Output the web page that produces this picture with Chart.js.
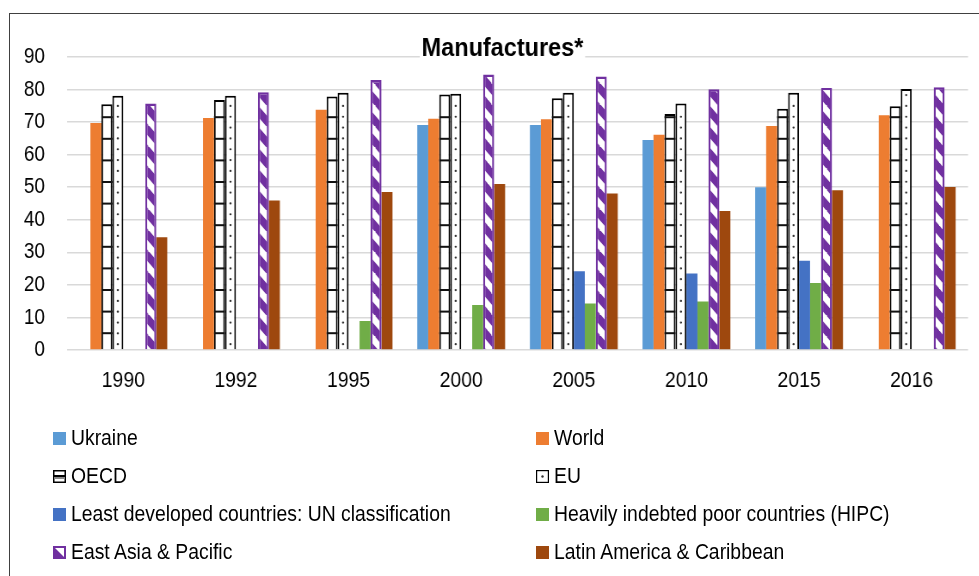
<!DOCTYPE html>
<html><head><meta charset="utf-8">
<script src="https://cdn.jsdelivr.net/npm/chart.js@4/dist/chart.umd.min.js"></script>
<style>
html,body{margin:0;padding:0;background:#fff;overflow:hidden;width:979px;height:576px;}
#frame{position:absolute;left:9px;top:13px;width:1100px;height:700px;border:1px solid #404040;box-sizing:border-box;}
#wrap{position:absolute;left:0;top:0;width:979px;height:576px;overflow:hidden;}
#c{height:576px;transform-origin:0 0;}
#legend{position:absolute;left:0;top:0;width:979px;height:576px;pointer-events:none;font-family:"Liberation Sans",Arial,sans-serif;font-size:22.5px;color:#000;}
.item{position:absolute;display:flex;align-items:center;white-space:nowrap;height:30px;}
.item canvas{margin-right:5px;display:block;}
.item span{display:inline-block;transform-origin:0 50%;}
</style></head><body>
<div id="frame"></div>
<div id="wrap"><canvas id="c"></canvas></div>
<div id="legend"></div>
<script>
const categories = ['1990','1992','1995','2000','2005','2010','2015','2016'];
const ukraine = [null, null, null, 69.1, 69.1, 64.5, 50.0, null];
const world   = [69.7, 71.3, 73.8, 71.0, 70.9, 66.1, 68.8, 72.1];
const oecd    = [75.5, 76.8, 77.9, 78.5, 77.3, 72.5, 74.1, 74.9];
const eu      = [78.1, 78.1, 79.0, 78.7, 79.0, 75.7, 79.0, 80.2];
const ldc     = [null, null, null, null, 24.2, 23.5, 27.4, null];
const hipc    = [null, null, 8.9, 13.8, 14.3, 14.9, 20.6, null];
const eap     = [75.7, 79.2, 82.9, 84.6, 84.0, 80.1, 80.5, 80.7];
const lac     = [34.6, 45.9, 48.5, 51.0, 48.1, 42.7, 49.1, 50.1];
const yMin = 0, yMax = 90, yStep = 10;
const seriesNames = ['Ukraine','World','OECD','EU','Least developed countries: UN classification','Heavily indebted poor countries (HIPC)','East Asia & Pacific','Latin America & Caribbean'];
const titleText = 'Manufactures*';

const K = 0.86; // horizontal compression of the rendered canvas (narrow text look)
const W = Math.round(979 / K);
const FONT = '"Liberation Sans",Arial,sans-serif';
const PURPLE = '#7030A0';

const cv = document.getElementById('c');
cv.width = W; cv.height = 576;
cv.style.width = W + 'px'; cv.style.height = '576px';
cv.style.transform = 'scaleX(' + K + ')';

function stripePattern(){
  const s = 21;
  const c = document.createElement('canvas'); c.width = s; c.height = s;
  const g = c.getContext('2d');
  g.fillStyle = '#fff'; g.fillRect(0,0,s,s);
  g.strokeStyle = PURPLE; g.lineWidth = 8;
  for (const off of [-s, 0, s]) { g.beginPath(); g.moveTo(off - 2, -2); g.lineTo(off + s + 2, s + 2); g.stroke(); }
  return cv.getContext('2d').createPattern(c, 'repeat');
}
const eapPattern = stripePattern();

const styles = [
  {type:'solid', color:'#5B9BD5'},
  {type:'solid', color:'#ED7D31'},
  {type:'oecd'},
  {type:'eu'},
  {type:'solid', color:'#4472C4'},
  {type:'solid', color:'#70AD47'},
  {type:'eap'},
  {type:'solid', color:'#9E480E'}
];
const values = [ukraine, world, oecd, eu, ldc, hipc, eap, lac];

const datasets = values.map((v, i) => {
  const st = styles[i];
  const d = {label: seriesNames[i], data: v};
  if (st.type === 'solid') { d.backgroundColor = st.color; d.borderWidth = 0; }
  else if (st.type === 'oecd' || st.type === 'eu') { d.backgroundColor = '#fff'; d.borderColor = '#000'; d.borderWidth = 2; }
  else { d.backgroundColor = eapPattern; d.borderColor = PURPLE; d.borderWidth = 2.4; }
  return d;
});

const patternPlugin = {
  id: 'patterns',
  afterDatasetsDraw(chart) {
    const ctx = chart.ctx;
    chart.data.datasets.forEach((ds, di) => {
      const st = styles[di];
      if (st.type !== 'oecd' && st.type !== 'eu') return;
      const meta = chart.getDatasetMeta(di);
      meta.data.forEach((el, i) => {
        if (ds.data[i] == null) return;
        const p = el.getProps(['x','y','base','width'], true);
        const left = p.x - p.width/2, right = p.x + p.width/2;
        ctx.save();
        if (st.type === 'oecd') {
          ctx.fillStyle = '#111';
          for (let yy = p.base - 16; yy > p.y + 3; yy -= 21.6) {
            ctx.fillRect(left, yy - 1, right - left, 2);
          }
        } else {
          ctx.fillStyle = '#333';
          for (let yy = p.base - 5; yy > p.y + 3; yy -= 10.83) {
            ctx.beginPath(); ctx.ellipse(p.x, yy, 1.3, 1.1, 0, 0, Math.PI*2); ctx.fill();
          }
        }
        ctx.restore();
      });
    });
  }
};

const titlePlugin = {
  id: 'overlayTitle',
  beforeDatasetsDraw(chart) {
    const ctx = chart.ctx;
    ctx.save();
    const cx = 502.5 / K, cy = 49;
    ctx.translate(cx, cy);
    ctx.scale(0.92 / K, 1);
    ctx.font = 'bold 25.5px ' + FONT;
    const w = ctx.measureText(titleText).width;
    ctx.fillStyle = '#fff';
    ctx.fillRect(-w/2 - 2, -14, w + 4, 28);
    ctx.fillStyle = '#000';
    ctx.textAlign = 'center'; ctx.textBaseline = 'middle';
    ctx.fillText(titleText, 0, 0);
    ctx.restore();
  }
};

new Chart(cv, {
  type: 'bar',
  data: { labels: categories, datasets },
  plugins: [titlePlugin, patternPlugin],
  options: {
    responsive: false, animation: false, devicePixelRatio: 1,
    layout: { padding: { left: 0, right: W - 968 / K, top: 57, bottom: 186 } },
    datasets: { bar: { categoryPercentage: 0.78, barPercentage: 1 } },
    plugins: { legend: { display: false }, title: { display: false }, tooltip: { enabled: false } },
    scales: {
      x: {
        grid: { display: false }, border: { display: false },
        ticks: { font: { family: FONT, size: 22.5 }, color: '#000', padding: 9, maxRotation: 0 },
        afterFit(s) { s.height = 40; }
      },
      y: {
        min: yMin, max: yMax,
        ticks: { stepSize: yStep, font: { family: FONT, size: 22 }, color: '#000', padding: 22 / K },
        grid: { color: '#d9d9d9', lineWidth: 1.6, drawTicks: false },
        border: { display: false },
        afterFit(s) { s.width = 67 / K; }
      }
    }
  }
});

// HTML legend in two columns
function swatch(st) {
  const c = document.createElement('canvas'); c.width = 13; c.height = 13;
  const g = c.getContext('2d');
  if (st.type === 'solid') { g.fillStyle = st.color; g.fillRect(0,0,13,13); }
  else if (st.type === 'oecd') {
    g.fillStyle = '#fff'; g.fillRect(0,0,13,13);
    g.strokeStyle = '#000'; g.lineWidth = 1.5; g.strokeRect(0.75,0.75,11.5,11.5);
    g.fillStyle = '#000'; g.fillRect(1,5,11,2); g.fillStyle = '#888'; g.fillRect(1,7,11,2);
  } else if (st.type === 'eu') {
    g.fillStyle = '#fff'; g.fillRect(0,0,13,13);
    g.strokeStyle = '#000'; g.lineWidth = 1.2; g.strokeRect(0.6,0.6,11.8,11.8);
    g.fillStyle = '#333'; g.beginPath(); g.arc(6.5,6.5,1.2,0,Math.PI*2); g.fill();
  } else {
    g.fillStyle = '#fff'; g.fillRect(0,0,13,13);
    g.fillStyle = PURPLE; g.beginPath(); g.moveTo(2,2); g.lineTo(11,11); g.lineTo(2,11); g.closePath(); g.fill();
    g.strokeStyle = PURPLE; g.lineWidth = 2; g.strokeRect(1,1,11,11);
  }
  return c;
}
const leg = document.getElementById('legend');
const rowCenters = [438, 476, 514, 552];
const colLefts = [53, 536];
seriesNames.forEach((name, i) => {
  const row = Math.floor(i / 2), col = i % 2;
  const it = document.createElement('div'); it.className = 'item';
  it.style.left = colLefts[col] + 'px'; it.style.top = (rowCenters[row] - 15) + 'px';
  it.appendChild(swatch(styles[i]));
  const sp = document.createElement('span'); sp.textContent = name;
  sp.style.transform = 'scaleX(' + K + ')';
  it.appendChild(sp);
  leg.appendChild(it);
});
</script>
</body></html>
